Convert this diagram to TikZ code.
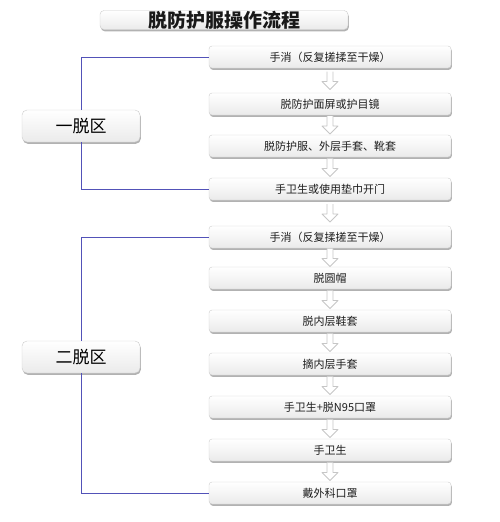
\documentclass[tikz,border=0pt]{standalone}
\usepackage{fontspec}
\setmainfont{Noto Sans CJK SC}
\usetikzlibrary{shadows,calc}
\definecolor{linkc}{HTML}{5252B8}
\definecolor{txt}{HTML}{1E1E1E}
\begin{document}
\begin{tikzpicture}[x=1pt,y=-1pt,
  box/.style={draw=gray!40, rounded corners=3pt, top color=white, bottom color=gray!16,
    drop shadow={shadow xshift=0.8pt, shadow yshift=-1.8pt, fill=gray!75, opacity=0.8},
    minimum width=242pt, minimum height=22pt, inner sep=0pt,
    font=\fontsize{11}{12}\selectfont, text=txt},
  zone/.style={box, rounded corners=5pt, minimum width=118pt, minimum height=32pt,
    font=\fontsize{17}{20}\selectfont, text=black},
  titlebox/.style={box, rounded corners=4pt, minimum width=248pt, minimum height=19pt,
    font=\fontsize{19}{20}\selectfont\bfseries, text=black!90},
  link/.style={draw=linkc, line width=0.8pt},
  darr/.pic={\draw[gray!45, fill=white, line width=0.8pt, line join=round]
    (-3,-9) -- (-3,1) -- (-8,1) -- (0,9) -- (8,1) -- (3,1) -- (3,-9);}
]
\useasboundingbox (0,0) rectangle (500,522);

\node[titlebox] (title) at (224,20) {脱防护服操作流程};

\node[box] (b1)  at (330,57)  {手消（反复搓揉至干燥）};
\node[box] (b2)  at (330,104) {脱防护面屏或护目镜};
\node[box] (b3)  at (330,146) {脱防护服、外层手套、靴套};
\node[box] (b4)  at (330,189) {手卫生或使用垫巾开门};
\node[box] (b5)  at (330,237) {手消（反复揉搓至干燥）};
\node[box] (b6)  at (330,278) {脱圆帽};
\node[box] (b7)  at (330,321) {脱内层鞋套};
\node[box] (b8)  at (330,364) {摘内层手套};
\node[box] (b9)  at (330,407) {手卫生+脱N95口罩};
\node[box] (b10) at (330,450) {手卫生};
\node[box] (b11) at (330,493) {戴外科口罩};

\node[zone] (z1) at (81,126) {一脱区};
\node[zone] (z2) at (81,357) {二脱区};

\foreach \a/\b in {b1/b2,b2/b3,b3/b4,b4/b5,b5/b6,b6/b7,b7/b8,b8/b9,b9/b10,b10/b11}
  \pic at ($(\a.south)!0.5!(\b.north)$) {darr};

\draw[link] (z1.north) |- (b1.west);
\draw[link] (z1.south) |- (b4.west);
\draw[link] (z2.north) |- (b5.west);
\draw[link] (z2.south) |- (b11.west);
\end{tikzpicture}
\end{document}
